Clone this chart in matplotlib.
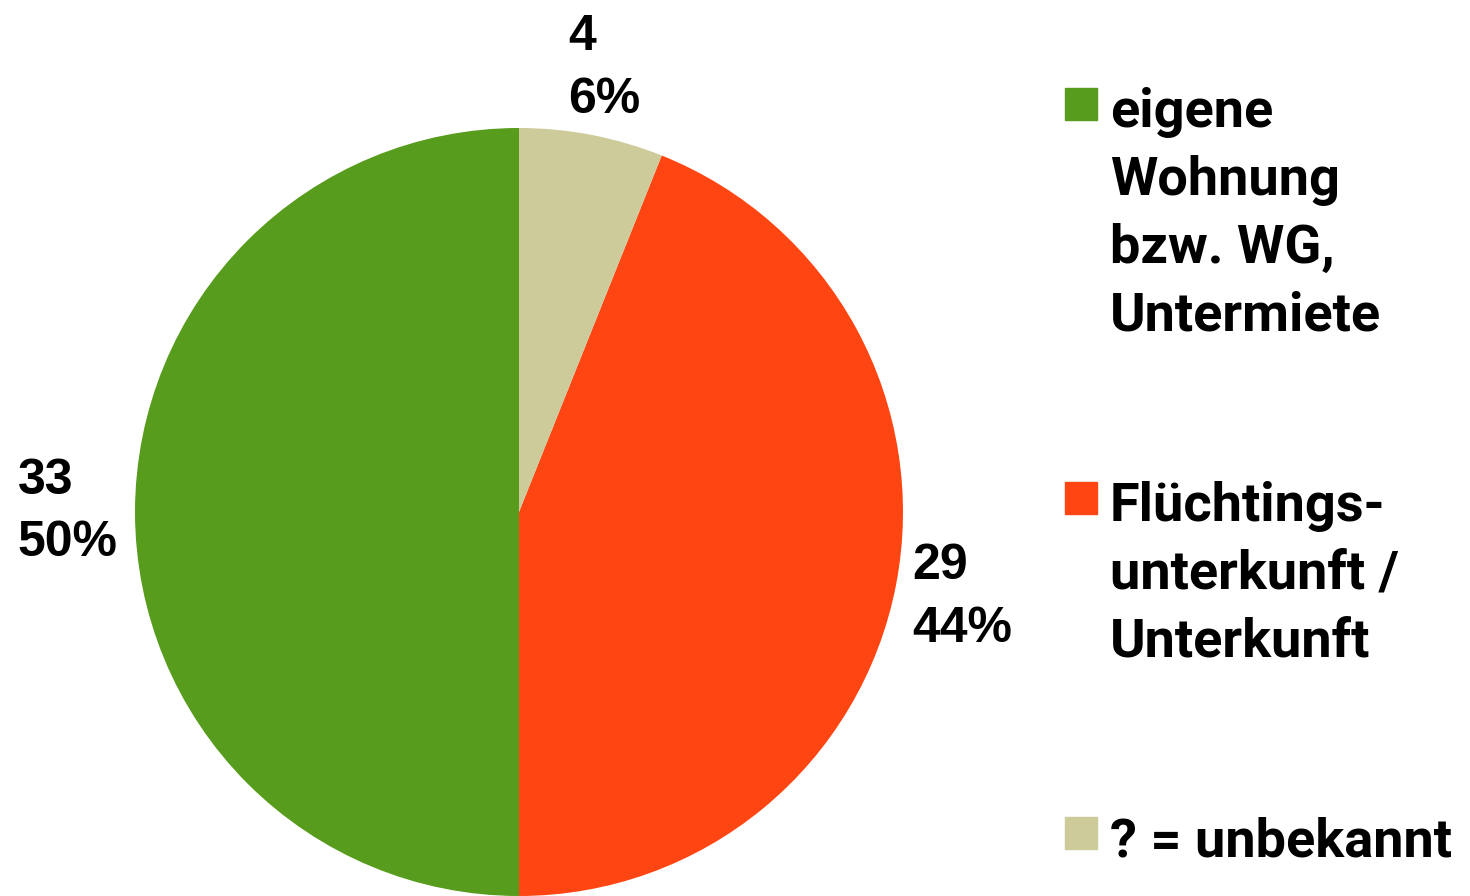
import matplotlib.pyplot as plt
from matplotlib.patches import Rectangle

# Data
categories = ['eigene\nWohnung\nbzw. WG,\nUntermiete',
              'Flüchtings-\nunterkunft /\nUnterkunft',
              '? = unbekannt']
counts = [33, 29, 4]
colors = ['#589C1E', '#FF4512', '#CCCB99']

total = sum(counts)
labels = [f"{c}\n{round(100 * c / total)}%" for c in counts]

fig = plt.figure(figsize=(14.7, 8.96), dpi=100)
W, H = 1470, 896

# pie axes: centre (519, 512) px, radius 384 px
cx, cy, r = 519, 512, 384
ax = fig.add_axes([(cx - r) / W, (H - cy - r) / H, 2 * r / W, 2 * r / H])
wedges, texts = ax.pie(counts, colors=colors, startangle=90, counterclock=True,
                       labels=labels, labeldistance=1.175,
                       textprops=dict(family='Liberation Sans', weight='bold',
                                      fontsize=36, linespacing=1.47))
for t in texts:
    t.set_ha('center')
    t.set_multialignment('left')
ax.set_xlim(-1, 1)
ax.set_ylim(-1, 1)
ax.set_aspect('equal')

# legend, drawn by hand so the marker sits at the first line
entry_baselines = [126, 520, 855]
for lab, col, yb in zip(categories, colors, entry_baselines):
    fig.patches.append(Rectangle((1065 / W, (H - yb + 6) / H), 32 / W, 32 / H,
                                 transform=fig.transFigure, color=col))
    fig.text(1110 / W, (H - yb + 39) / H, lab, ha='left', va='top',
             family='Roboto', weight='bold', fontsize=39, linespacing=1.42,
             color='black')

fig.savefig('out.png', dpi=100)
